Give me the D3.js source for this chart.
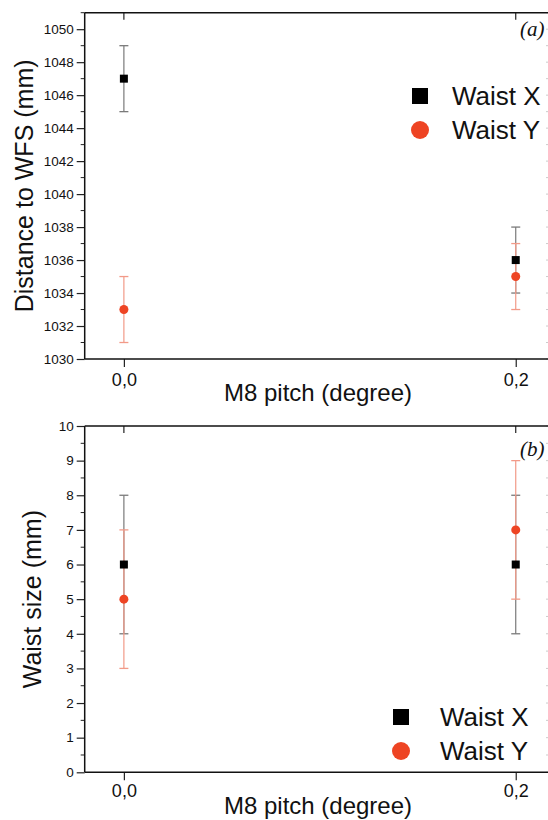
<!DOCTYPE html>
<html><head><meta charset="utf-8">
<script src="https://cdn.jsdelivr.net/npm/d3@7"></script>
<style>
html,body{margin:0;padding:0;background:#fff;overflow:hidden}
svg{display:block}
text{font-family:"Liberation Sans",Arial,sans-serif;fill:#111}
</style></head>
<body>
<svg id="c" width="548" height="820"></svg>
<script>
// ---- data ----
const pitch = [0.0, 0.2];
const xTickLabels = ["0,0", "0,2"];
// panel (a): distance to WFS (mm)
const distX = [1047, 1036];
const distXErr = [2, 2];
const distY = [1033, 1035];
const distYErr = [2, 2];
const distTicks = [1030, 1032, 1034, 1036, 1038, 1040, 1042, 1044, 1046, 1048, 1050];
// panel (b): waist size (mm)
const sizeX = [6, 6];
const sizeXErr = [2, 2];
const sizeY = [5, 7];
const sizeYErr = [2, 2];
const sizeTicks = [0, 1, 2, 3, 4, 5, 6, 7, 8, 9, 10];
const seriesNames = ["Waist X", "Waist Y"];

const svg = d3.select("#c");
const RED = "#ee4423", RED_BAR = "#f29a88", BLK_BAR = "#7a7a7a";

function panel(cfg) {
  const g = svg.append("g");
  const x = d3.scaleLinear().domain([-0.02, 0.218]).range([84.7, 551]);
  const y = d3.scaleLinear().domain(cfg.yDomain).range([cfg.bottom, cfg.top]);
  const L = x.range()[0], R = x.range()[1];

  // minor ticks
  const minor = d3.range(cfg.yDomain[0], cfg.yDomain[1] + 1e-9, cfg.minorStep)
    .filter(v => !cfg.ticks.some(t => Math.abs(t - v) < 1e-9));
  g.selectAll(".mn").data(minor).join("line")
    .attr("x1", L - 4).attr("x2", L).attr("y1", d => y(d)).attr("y2", d => y(d))
    .attr("stroke", "#222").attr("stroke-width", 1);
  // right side faint ticks
  g.selectAll(".rt").data(cfg.ticks.concat(minor)).join("line")
    .attr("x1", R - 5).attr("x2", R).attr("y1", d => y(d)).attr("y2", d => y(d))
    .attr("stroke", "#ccc").attr("stroke-width", 1);

  // left axis
  const ay = g.append("g").attr("transform", `translate(${L},0)`)
    .call(d3.axisLeft(y).tickValues(cfg.ticks).tickSize(8).tickPadding(3).tickFormat(d3.format("d")));
  ay.select(".domain").remove();
  ay.selectAll(".tick line").attr("stroke", "#222").attr("stroke-width", 1.2);
  ay.selectAll(".tick text").style("font-family", '"Liberation Sans",Arial,sans-serif')
    .style("font-size", "13.5px").attr("fill", "#111");

  // bottom axis
  const ax = g.append("g").attr("transform", `translate(0,${cfg.bottom})`)
    .call(d3.axisBottom(x).tickValues(pitch).tickSize(8).tickPadding(cfg.xPad).tickFormat((d, i) => xTickLabels[i]));
  ax.select(".domain").remove();
  ax.selectAll(".tick line").attr("stroke", "#222").attr("stroke-width", 1.2);
  ax.selectAll(".tick text").style("font-family", '"Liberation Sans",Arial,sans-serif')
    .style("font-size", "18px").attr("fill", "#111");
  // top inward ticks
  g.selectAll(".tt").data(pitch).join("line")
    .attr("x1", d => x(d)).attr("x2", d => x(d)).attr("y1", cfg.top).attr("y2", cfg.top + 7)
    .attr("stroke", "#222").attr("stroke-width", 1.2);

  // frame
  g.append("line").attr("x1", L).attr("x2", L).attr("y1", cfg.top).attr("y2", cfg.bottom)
    .attr("stroke", "#111").attr("stroke-width", 1.5);
  g.append("line").attr("x1", L).attr("x2", R).attr("y1", cfg.bottom).attr("y2", cfg.bottom)
    .attr("stroke", "#111").attr("stroke-width", 1.5);
  g.append("line").attr("x1", L).attr("x2", R).attr("y1", cfg.top).attr("y2", cfg.top)
    .attr("stroke", "#111").attr("stroke-width", 1.5);

  // error bars
  function bars(vals, errs, color) {
    const d = pitch.map((p, i) => ({p, v: vals[i], e: errs[i]}));
    g.selectAll(null).data(d).join("line")
      .attr("x1", k => x(k.p)).attr("x2", k => x(k.p))
      .attr("y1", k => y(k.v - k.e)).attr("y2", k => y(k.v + k.e))
      .attr("stroke", color).attr("stroke-width", 1.2);
    ["-", "+"].forEach(s => {
      g.selectAll(null).data(d).join("line")
        .attr("x1", k => x(k.p) - 4.5).attr("x2", k => x(k.p) + 4.5)
        .attr("y1", k => y(s === "+" ? k.v + k.e : k.v - k.e))
        .attr("y2", k => y(s === "+" ? k.v + k.e : k.v - k.e))
        .attr("stroke", color).attr("stroke-width", 1.3);
    });
  }
  bars(cfg.xv, cfg.xe, BLK_BAR);
  bars(cfg.yv, cfg.ye, RED_BAR);
  // markers
  g.selectAll(null).data(pitch).join("rect")
    .attr("x", (p) => x(p) - 4).attr("y", (p, i) => y(cfg.xv[i]) - 4)
    .attr("width", 8).attr("height", 8).attr("fill", "#000");
  g.selectAll(null).data(pitch).join("circle")
    .attr("cx", p => x(p)).attr("cy", (p, i) => y(cfg.yv[i])).attr("r", 4.5).attr("fill", RED);

  // y label
  g.append("text").attr("transform", `translate(${cfg.yLabX},${(cfg.top + cfg.bottom) / 2}) rotate(-90)`)
    .attr("text-anchor", "middle").style("font-size", "25px").text(cfg.yLabel);
  // x label
  g.append("text").attr("x", 318).attr("y", cfg.xLabY).attr("text-anchor", "middle")
    .style("font-size", "24px").text("M8 pitch (degree)");
  // panel tag
  g.append("text").attr("x", 520).attr("y", cfg.tagY)
    .style("font-family", '"Liberation Serif","Times New Roman",serif').style("font-style", "italic")
    .style("font-size", "21px").text(cfg.tag);

  // legend
  const lg = g.append("g");
  lg.append("rect").attr("x", cfg.legX - 8).attr("y", cfg.legY - 8).attr("width", 16).attr("height", 16).attr("fill", "#000");
  lg.append("circle").attr("cx", cfg.legX).attr("cy", cfg.legY + 34).attr("r", 9).attr("fill", RED);
  seriesNames.forEach((n, i) => {
    lg.append("text").attr("x", cfg.legTX).attr("y", cfg.legY + 9 + i * 34)
      .style("font-size", "26px").text(n);
  });
}

panel({yDomain: [1030, 1051], top: 12.7, bottom: 359, ticks: distTicks, minorStep: 1,
  xv: distX, xe: distXErr, yv: distY, ye: distYErr, yLabX: 33, yLabel: "Distance to WFS (mm)",
  xPad: 6, xLabY: 401, tag: "(a)", tagY: 36, legX: 420, legY: 96, legTX: 452});
panel({yDomain: [0, 10], top: 426, bottom: 772.3, ticks: sizeTicks, minorStep: 0.5,
  xv: sizeX, xe: sizeXErr, yv: sizeY, ye: sizeYErr, yLabX: 41, yLabel: "Waist size (mm)",
  xPad: 4, xLabY: 814, tag: "(b)", tagY: 456, legX: 401, legY: 717, legTX: 440});
</script>
</body></html>
